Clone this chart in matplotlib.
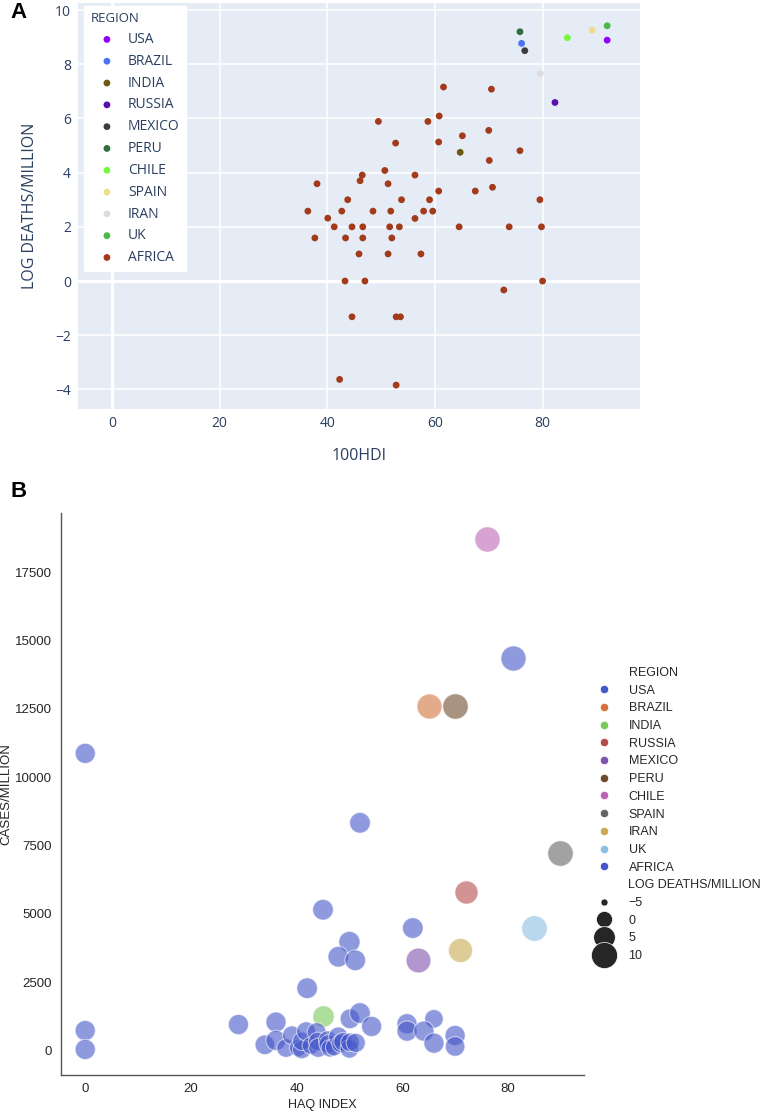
import matplotlib.pyplot as plt
from matplotlib.lines import Line2D
import numpy as np

regions = ['USA', 'BRAZIL', 'INDIA', 'RUSSIA', 'MEXICO', 'PERU',
           'CHILE', 'SPAIN', 'IRAN', 'UK', 'AFRICA']

# ---- panel A data (100HDI vs log deaths/million)
hdi_countries = [92.0, 76.1, 64.7, 82.3, 76.7, 75.8, 84.6, 89.2, 79.6, 92.0]
logd_countries = [8.89, 8.77, 4.75, 6.59, 8.50, 9.20, 8.98, 9.26, 7.66, 9.42]

hdi_africa = [61.6, 70.5, 49.5, 58.7, 60.8, 52.7, 60.7, 65.1, 70.0, 70.1,
              75.8, 50.7, 46.5, 46.1, 51.3, 56.3, 60.7, 67.5, 70.7, 79.5,
              43.8, 53.8, 59.0, 42.7, 48.5, 51.8, 57.9, 59.6, 56.3, 40.1,
              41.3, 44.6, 46.6, 51.6, 53.4, 64.5, 73.8, 79.8, 43.4, 46.6,
              52.0, 45.9, 51.3, 57.4, 43.3, 47.0, 80.0, 72.8, 44.6, 52.8,
              53.6, 42.3, 52.8, 38.1, 36.4, 37.7]
logd_africa = [7.16, 7.08, 5.89, 5.89, 6.09, 5.09, 5.13, 5.36, 5.56, 4.45,
               4.81, 4.08, 3.91, 3.70, 3.59, 3.91, 3.32, 3.32, 3.46, 3.00,
               3.00, 3.00, 3.00, 2.58, 2.58, 2.58, 2.58, 2.58, 2.31, 2.32,
               2.00, 2.00, 2.00, 2.00, 2.00, 2.00, 2.00, 2.00, 1.59, 1.59,
               1.59, 1.00, 1.00, 1.00, 0.00, 0.00, 0.00, -0.33, -1.32, -1.32,
               -1.32, -3.63, -3.84, 3.59, 2.58, 1.59]

# ---- panel B data (HAQ index vs cases/million, size = log deaths/million)
haq_countries = [81.0, 65.0, 45.0, 72.0, 63.0, 70.0, 76.0, 89.9, 71.0, 85.0]
cases_countries = [14350, 12590, 1270, 5800, 3300, 12590, 18730, 7230, 3660, 4480]

haq_africa = [0.0, 0.0, 0.0, 52.0, 45.0, 62.0, 50.0, 47.9, 51.1, 42.0,
              29.0, 36.1, 50.1, 52.0, 54.2, 60.9, 60.9, 66.0, 64.1, 66.0,
              70.0, 70.0, 34.0, 36.1, 38.0, 39.1, 40.3, 41.0, 41.0, 41.8,
              42.7, 43.8, 44.0, 44.1, 45.9, 46.0, 46.3, 47.1, 47.9, 48.4,
              48.8, 50.0, 50.1, 51.2]
cases_africa = [10870, 730, 40, 8330, 5150, 4480, 3970, 3430, 3300, 2280,
                950, 1040, 1160, 1370, 880, 980, 710, 1160, 710, 270,
                550, 150, 210, 370, 90, 560, 100, 40, 340, 700,
                180, 670, 330, 100, 380, 240, 80, 120, 510, 260,
                320, 60, 300, 280]
logd_africa_b = [3.5, 3.5, 3.5, 4.0, 4.0, 4.0, 4.5, 4.0, 4.0, 4.0,
                 3.5, 3.5, 3.0, 4.0, 3.5, 3.5, 3.5, 2.0, 3.5, 3.5,
                 3.5, 3.0, 3.0, 3.5, 2.0, 2.0, 1.0, 2.0, 2.0, 2.5,
                 1.0, 2.5, 2.0, 2.5, 2.0, 2.0, 1.0, 1.0, 2.5, 2.0,
                 2.0, 2.0, 2.0, 2.5]

size_ticks = [-5, 0, 5, 10]

colors_a = ['#8f00ff', '#4a72f5', '#6b5a10', '#5a10b0', '#3d3d3d', '#2f6e3e',
            '#76f83a', '#f0dc8c', '#dcdcdc', '#4cb84c', '#a33a1a']
colors_b = ['#4457c8', '#d2733c', '#78c85a', '#b44c4c', '#7e52ae', '#6e4b2d',
            '#be64b4', '#646464', '#c8aa50', '#8cbee1', '#4457c8']


def size_pt2(v):
    # marker size grows linearly with log deaths/million
    diam_px2 = 260 + 42 * np.asarray(v, dtype=float)
    return diam_px2 / (100 / 72) ** 2


fig = plt.figure(figsize=(7.61, 11.12), dpi=100)

# ================= A =================
txt = '#2a3f5f'
axA = fig.add_axes([0.1025, 0.632, 0.7385, 0.3653])
axA.set_facecolor('#e5ecf6')
for i, r in enumerate(regions):
    if r == 'AFRICA':
        xs, ys = hdi_africa, logd_africa
    else:
        xs, ys = [hdi_countries[i]], [logd_countries[i]]
    axA.scatter(xs, ys, s=24, color=colors_a[i], edgecolors='none', label=r, zorder=3)
axA.set_xlim(-6.3, 98.1)
axA.set_ylim(-4.73, 10.26)
axA.set_xticks([0, 20, 40, 60, 80])
axA.set_yticks([-4, -2, 0, 2, 4, 6, 8, 10])
axA.grid(color='white', lw=1.1, zorder=0)
axA.axhline(0, color='white', lw=2.2, zorder=1)
axA.axvline(0, color='white', lw=2.2, zorder=1)
axA.set_axisbelow(True)
for s in axA.spines.values():
    s.set_visible(False)
axA.tick_params(length=0, labelsize=10, colors=txt, pad=5)
for lab in axA.get_xticklabels() + axA.get_yticklabels():
    lab.set_family('Open Sans')
    lab.set_color(txt)
axA.set_xlabel('100HDI', family='Open Sans', fontsize=11.5, color=txt, labelpad=12)
axA.set_ylabel('LOG DEATHS/MILLION', family='Open Sans', fontsize=11.5, color=txt, labelpad=12)
legA = axA.legend(title='REGION', loc='upper left', bbox_to_anchor=(0.0107, 0.9926),
                  borderaxespad=0, frameon=True, fancybox=False, facecolor='white',
                  edgecolor='white', framealpha=1, prop={'family': 'Open Sans', 'size': 10},
                  labelspacing=0.49, handlelength=2.4, handletextpad=0.3, borderpad=0.45,
                  markerscale=1.0)
legA.get_title().set_family('Open Sans')
legA.get_title().set_fontsize(9.5)
legA.get_title().set_color(txt)
legA._legend_box.align = 'left'
for t in legA.get_texts():
    t.set_color(txt)
fig.text(0.014, 0.984, 'A', fontsize=16, fontweight='bold', family='Liberation Sans')

# ================= B =================
axB = fig.add_axes([0.0808, 0.0333, 0.6866, 0.5054])
for i, r in enumerate(regions):
    if r == 'AFRICA':
        xs, ys, ls = haq_africa, cases_africa, logd_africa_b
    else:
        xs, ys, ls = [haq_countries[i]], [cases_countries[i]], [logd_countries[i]]
    axB.scatter(xs, ys, s=size_pt2(ls), color=colors_b[i], alpha=0.6,
                edgecolors='white', linewidths=0.75, zorder=3)
axB.margins(0.05)
axB.set_xticks([0, 20, 40, 60, 80])
axB.set_yticks([0, 2500, 5000, 7500, 10000, 12500, 15000, 17500])
for side in ['top', 'right']:
    axB.spines[side].set_visible(False)
for side in ['left', 'bottom']:
    axB.spines[side].set_color('#555555')
    axB.spines[side].set_linewidth(1.0)
axB.tick_params(length=0, labelsize=9.5, colors='#262626')
axB.tick_params(axis='y', pad=7)
axB.tick_params(axis='x', pad=6)
for lab in axB.get_xticklabels() + axB.get_yticklabels():
    lab.set_family('Liberation Sans')
axB.set_xlabel('HAQ INDEX', family='Liberation Sans', fontsize=9, color='#262626', labelpad=3)
axB.set_ylabel('CASES/MILLION', family='Liberation Sans', fontsize=9.5, color='#262626', labelpad=2)

handles = [Line2D([], [], linestyle='none')]
labels = ['REGION']
for i, r in enumerate(regions):
    handles.append(Line2D([], [], marker='o', linestyle='none', markersize=6,
                          markerfacecolor=colors_b[i], markeredgecolor='white',
                          markeredgewidth=0.5))
    labels.append(r)
handles.append(Line2D([], [], linestyle='none'))
labels.append('LOG DEATHS/MILLION')
for v in size_ticks:
    handles.append(Line2D([], [], marker='o', linestyle='none',
                          markersize=np.sqrt(size_pt2(v)),
                          markerfacecolor='#262626', markeredgecolor='white',
                          markeredgewidth=0.5))
    labels.append(str(v).replace('-', '\u2212'))
legB = fig.legend(handles, labels, loc='upper left', bbox_to_anchor=(596 / 761, 1 - 667 / 1112),
                  frameon=False, borderaxespad=0, borderpad=0, labelspacing=0.455,
                  handlelength=1.2, handletextpad=1.4,
                  prop={'family': 'Liberation Sans', 'size': 9})
for t in legB.get_texts():
    t.set_color('#262626')
fig.text(0.014, 0.553, 'B', fontsize=16, fontweight='bold', family='Liberation Sans')

fig.savefig('out.png', dpi=100)
